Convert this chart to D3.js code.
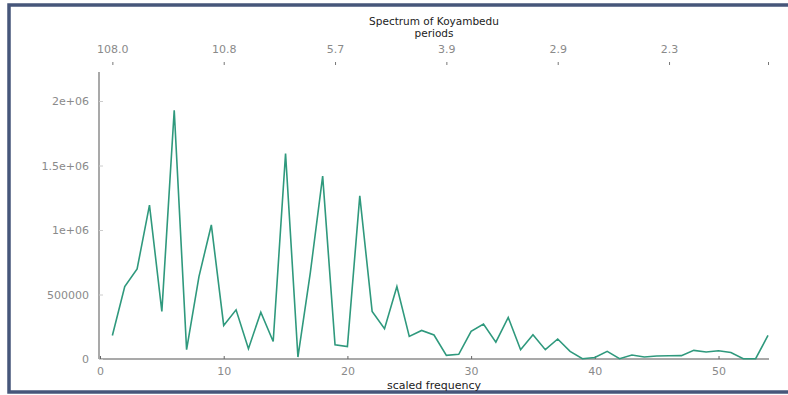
<!DOCTYPE html>
<html>
<head>
<meta charset="utf-8">
<script src="https://cdn.jsdelivr.net/npm/d3@7"></script>
<style>
  body { margin: 0; background: #fff; }
  svg text { font-family: "DejaVu Sans", Verdana, sans-serif; }
</style>
</head>
<body>
<svg id="chart" width="788" height="395"></svg>
<script>
// periodogram ordinates, scaled frequency 1..54
var freqs = d3.range(1, 55);
var spectrum = [
    182000, 562000, 698000, 1193000, 368000, 1928000, 72000, 639000, 1039000, 260000,
    381000, 80000, 363000, 136000, 1593000, 15000, 667000, 1418000, 110000, 97000,
    1265000, 368000, 234000, 562000, 175000, 221000, 186000, 28000, 36000, 214000,
    270000, 131000, 322000, 72000, 188000, 72000, 155000, 59000, 2000, 12000,
    59000, 2000, 31000, 15000, 23000, 25000, 26000, 67000, 54000, 64000,
    51000, 2000, 2000, 183000
];
var xTicks = [0, 10, 20, 30, 40, 50];
var yTicks = [0, 500000, 1000000, 1500000, 2000000];
var yTickLabels = ["0", "500000", "1e+06", "1.5e+06", "2e+06"];
var periodTicks = [1, 10, 19, 28, 37, 46, 54];
var periodLabels = ["108.0", "10.8", "5.7", "3.9", "2.9", "2.3", ""];

var svg = d3.select("#chart");

var x = d3.scaleLinear().domain([0, 54]).range([100, 768]);
var y = d3.scaleLinear().domain([0, 2000000]).range([359, 101]);

// frame round the picture
svg.append("rect")
    .attr("x", 9).attr("y", 5)
    .attr("width", 790).attr("height", 387)
    .attr("fill", "none")
    .attr("stroke", "#46567a")
    .attr("stroke-width", 3.5);

var grey = "#a9a9a9", labelGrey = "#8a8a8a";

// bottom axis
var gx = svg.append("g").attr("transform", "translate(0," + y(0) + ")")
    .call(d3.axisBottom(x).tickValues(xTicks).tickSizeInner(-3).tickSizeOuter(0).tickPadding(8));
gx.select(".domain").attr("stroke", grey).attr("stroke-width", 2)
    .attr("d", "M" + (x(0) - 1) + ",0H" + (x(54) + 1));
gx.selectAll(".tick line").attr("stroke", "#666");
gx.selectAll(".tick text").attr("fill", labelGrey).attr("font-size", 11);

// left axis
var gy = svg.append("g").attr("transform", "translate(" + (x(0) - 1) + ",0)")
    .call(d3.axisLeft(y).tickValues(yTicks).tickFormat(function (d, i) { return yTickLabels[i]; })
        .tickSizeInner(-4).tickSizeOuter(0).tickPadding(10));
gy.select(".domain").attr("stroke", grey).attr("stroke-width", 2)
    .attr("d", "M0,72V" + y(0));
gy.selectAll(".tick line").attr("stroke", "#ccc");
gy.selectAll(".tick text").attr("fill", labelGrey).attr("font-size", 11);

// top axis: periods
var gt = svg.append("g").attr("transform", "translate(0,65)")
    .call(d3.axisTop(x).tickValues(periodTicks).tickFormat(function (d, i) { return periodLabels[i]; })
        .tickSize(3).tickPadding(9));
gt.select(".domain").remove();
gt.selectAll(".tick line").attr("stroke", "#777");
gt.selectAll(".tick text").attr("fill", labelGrey).attr("font-size", 11);

// spectrum line
var line = d3.line()
    .x(function (d, i) { return x(freqs[i]); })
    .y(function (d) { return y(d); });

svg.append("path")
    .datum(spectrum)
    .attr("d", line)
    .attr("fill", "none")
    .attr("stroke", "#2f997d")
    .attr("stroke-width", 1.6)
    .attr("stroke-linejoin", "miter");

// titles
svg.append("text").attr("x", 434).attr("y", 25).attr("text-anchor", "middle")
    .attr("font-size", 10.5).attr("fill", "#222").text("Spectrum of Koyambedu");
svg.append("text").attr("x", 434).attr("y", 37).attr("text-anchor", "middle")
    .attr("font-size", 10.5).attr("fill", "#222").text("periods");
svg.append("text").attr("x", 434).attr("y", 389).attr("text-anchor", "middle")
    .attr("font-size", 11).attr("fill", "#222").text("scaled frequency");
</script>
</body>
</html>
